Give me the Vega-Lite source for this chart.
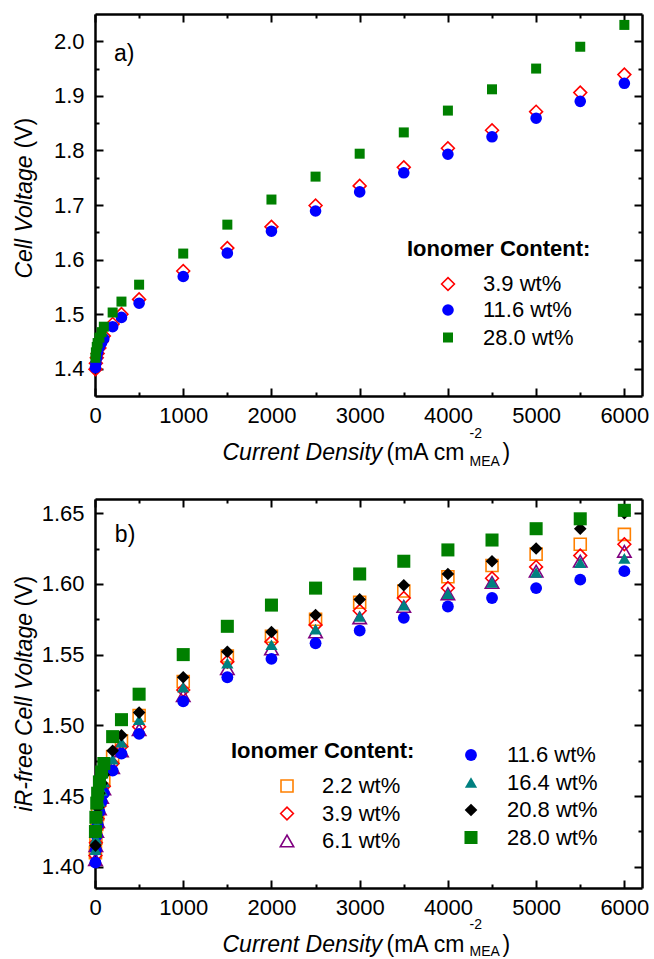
{
  "$schema": "https://vega.github.io/schema/vega-lite/v6.json",
  "padding": {"left": 13, "top": 13, "right": 5, "bottom": 0},
  "config": {
    "font": "Liberation Sans",
    "view": {"stroke": null},
    "axis": {"grid": false, "domainColor": "black", "domainWidth": 2.5, "tickColor": "black", "tickWidth": 2, "labelFont": "Liberation Sans", "labelFontSize": 22, "labelColor": "black", "titleFont": "Liberation Sans", "titleFontSize": 23, "titleColor": "black", "titleFontWeight": "normal"},
    "legend": {"labelFont": "Liberation Sans", "titleFont": "Liberation Sans", "labelFontSize": 22, "titleFontSize": 22, "labelColor": "black", "titleColor": "black", "titleFontWeight": "bold", "titleLimit": 400, "labelLimit": 300, "rowPadding": 5.5, "titlePadding": 12, "symbolStrokeWidth": 1.6}
  },
  "datasets": {
    "aOpen": [
      {"j":5,"v":1.399,"c":"3.9 wt%"},{"j":10,"v":1.41,"c":"3.9 wt%"},{"j":20,"v":1.42,"c":"3.9 wt%"},{"j":30,"v":1.428,"c":"3.9 wt%"},{"j":50,"v":1.438,"c":"3.9 wt%"},{"j":75,"v":1.45,"c":"3.9 wt%"},{"j":100,"v":1.46,"c":"3.9 wt%"},{"j":200,"v":1.482,"c":"3.9 wt%"},{"j":300,"v":1.5,"c":"3.9 wt%"},{"j":500,"v":1.527,"c":"3.9 wt%"},{"j":1000,"v":1.579,"c":"3.9 wt%"},{"j":1500,"v":1.621,"c":"3.9 wt%"},{"j":2000,"v":1.66,"c":"3.9 wt%"},{"j":2500,"v":1.699,"c":"3.9 wt%"},{"j":3000,"v":1.735,"c":"3.9 wt%"},{"j":3500,"v":1.769,"c":"3.9 wt%"},{"j":4000,"v":1.804,"c":"3.9 wt%"},{"j":4500,"v":1.837,"c":"3.9 wt%"},{"j":5000,"v":1.871,"c":"3.9 wt%"},{"j":5500,"v":1.906,"c":"3.9 wt%"},{"j":6000,"v":1.939,"c":"3.9 wt%"}
    ],
    "aFilled": [
      {"j":5,"v":1.402,"c":"11.6 wt%"},{"j":10,"v":1.41,"c":"11.6 wt%"},{"j":20,"v":1.42,"c":"11.6 wt%"},{"j":30,"v":1.43,"c":"11.6 wt%"},{"j":50,"v":1.44,"c":"11.6 wt%"},{"j":75,"v":1.448,"c":"11.6 wt%"},{"j":100,"v":1.455,"c":"11.6 wt%"},{"j":200,"v":1.477,"c":"11.6 wt%"},{"j":300,"v":1.494,"c":"11.6 wt%"},{"j":500,"v":1.52,"c":"11.6 wt%"},{"j":1000,"v":1.569,"c":"11.6 wt%"},{"j":1500,"v":1.612,"c":"11.6 wt%"},{"j":2000,"v":1.652,"c":"11.6 wt%"},{"j":2500,"v":1.689,"c":"11.6 wt%"},{"j":3000,"v":1.724,"c":"11.6 wt%"},{"j":3500,"v":1.759,"c":"11.6 wt%"},{"j":4000,"v":1.793,"c":"11.6 wt%"},{"j":4500,"v":1.825,"c":"11.6 wt%"},{"j":5000,"v":1.859,"c":"11.6 wt%"},{"j":5500,"v":1.89,"c":"11.6 wt%"},{"j":6000,"v":1.923,"c":"11.6 wt%"},
      {"j":5,"v":1.42,"c":"28.0 wt%"},{"j":10,"v":1.43,"c":"28.0 wt%"},{"j":20,"v":1.44,"c":"28.0 wt%"},{"j":30,"v":1.447,"c":"28.0 wt%"},{"j":50,"v":1.457,"c":"28.0 wt%"},{"j":75,"v":1.467,"c":"28.0 wt%"},{"j":100,"v":1.477,"c":"28.0 wt%"},{"j":200,"v":1.503,"c":"28.0 wt%"},{"j":300,"v":1.523,"c":"28.0 wt%"},{"j":500,"v":1.554,"c":"28.0 wt%"},{"j":1000,"v":1.611,"c":"28.0 wt%"},{"j":1500,"v":1.664,"c":"28.0 wt%"},{"j":2000,"v":1.71,"c":"28.0 wt%"},{"j":2500,"v":1.752,"c":"28.0 wt%"},{"j":3000,"v":1.794,"c":"28.0 wt%"},{"j":3500,"v":1.833,"c":"28.0 wt%"},{"j":4000,"v":1.873,"c":"28.0 wt%"},{"j":4500,"v":1.912,"c":"28.0 wt%"},{"j":5000,"v":1.95,"c":"28.0 wt%"},{"j":5500,"v":1.99,"c":"28.0 wt%"},{"j":6000,"v":2.03,"c":"28.0 wt%"}
    ],
    "bOpen": [
      {"j":5,"v":1.41,"c":"2.2 wt%"},{"j":10,"v":1.42,"c":"2.2 wt%"},{"j":20,"v":1.43,"c":"2.2 wt%"},{"j":30,"v":1.437,"c":"2.2 wt%"},{"j":50,"v":1.447,"c":"2.2 wt%"},{"j":75,"v":1.455,"c":"2.2 wt%"},{"j":100,"v":1.461,"c":"2.2 wt%"},{"j":200,"v":1.478,"c":"2.2 wt%"},{"j":300,"v":1.489,"c":"2.2 wt%"},{"j":500,"v":1.507,"c":"2.2 wt%"},{"j":1000,"v":1.531,"c":"2.2 wt%"},{"j":1500,"v":1.549,"c":"2.2 wt%"},{"j":2000,"v":1.563,"c":"2.2 wt%"},{"j":2500,"v":1.575,"c":"2.2 wt%"},{"j":3000,"v":1.587,"c":"2.2 wt%"},{"j":3500,"v":1.595,"c":"2.2 wt%"},{"j":4000,"v":1.605,"c":"2.2 wt%"},{"j":4500,"v":1.613,"c":"2.2 wt%"},{"j":5000,"v":1.621,"c":"2.2 wt%"},{"j":5500,"v":1.628,"c":"2.2 wt%"},{"j":6000,"v":1.635,"c":"2.2 wt%"},
      {"j":5,"v":1.408,"c":"3.9 wt%"},{"j":10,"v":1.417,"c":"3.9 wt%"},{"j":20,"v":1.427,"c":"3.9 wt%"},{"j":30,"v":1.434,"c":"3.9 wt%"},{"j":50,"v":1.443,"c":"3.9 wt%"},{"j":75,"v":1.451,"c":"3.9 wt%"},{"j":100,"v":1.457,"c":"3.9 wt%"},{"j":200,"v":1.473,"c":"3.9 wt%"},{"j":300,"v":1.485,"c":"3.9 wt%"},{"j":500,"v":1.499,"c":"3.9 wt%"},{"j":1000,"v":1.525,"c":"3.9 wt%"},{"j":1500,"v":1.545,"c":"3.9 wt%"},{"j":2000,"v":1.559,"c":"3.9 wt%"},{"j":2500,"v":1.571,"c":"3.9 wt%"},{"j":3000,"v":1.581,"c":"3.9 wt%"},{"j":3500,"v":1.59,"c":"3.9 wt%"},{"j":4000,"v":1.597,"c":"3.9 wt%"},{"j":4500,"v":1.604,"c":"3.9 wt%"},{"j":5000,"v":1.612,"c":"3.9 wt%"},{"j":5500,"v":1.62,"c":"3.9 wt%"},{"j":6000,"v":1.628,"c":"3.9 wt%"},
      {"j":5,"v":1.405,"c":"6.1 wt%"},{"j":10,"v":1.415,"c":"6.1 wt%"},{"j":20,"v":1.425,"c":"6.1 wt%"},{"j":30,"v":1.432,"c":"6.1 wt%"},{"j":50,"v":1.441,"c":"6.1 wt%"},{"j":75,"v":1.449,"c":"6.1 wt%"},{"j":100,"v":1.455,"c":"6.1 wt%"},{"j":200,"v":1.47,"c":"6.1 wt%"},{"j":300,"v":1.482,"c":"6.1 wt%"},{"j":500,"v":1.497,"c":"6.1 wt%"},{"j":1000,"v":1.521,"c":"6.1 wt%"},{"j":1500,"v":1.54,"c":"6.1 wt%"},{"j":2000,"v":1.554,"c":"6.1 wt%"},{"j":2500,"v":1.566,"c":"6.1 wt%"},{"j":3000,"v":1.576,"c":"6.1 wt%"},{"j":3500,"v":1.584,"c":"6.1 wt%"},{"j":4000,"v":1.593,"c":"6.1 wt%"},{"j":4500,"v":1.601,"c":"6.1 wt%"},{"j":5000,"v":1.609,"c":"6.1 wt%"},{"j":5500,"v":1.616,"c":"6.1 wt%"},{"j":6000,"v":1.623,"c":"6.1 wt%"}
    ],
    "bFilled": [
      {"j":5,"v":1.403,"c":"11.6 wt%"},{"j":10,"v":1.412,"c":"11.6 wt%"},{"j":20,"v":1.422,"c":"11.6 wt%"},{"j":30,"v":1.43,"c":"11.6 wt%"},{"j":50,"v":1.439,"c":"11.6 wt%"},{"j":75,"v":1.446,"c":"11.6 wt%"},{"j":100,"v":1.452,"c":"11.6 wt%"},{"j":200,"v":1.468,"c":"11.6 wt%"},{"j":300,"v":1.48,"c":"11.6 wt%"},{"j":500,"v":1.494,"c":"11.6 wt%"},{"j":1000,"v":1.517,"c":"11.6 wt%"},{"j":1500,"v":1.534,"c":"11.6 wt%"},{"j":2000,"v":1.547,"c":"11.6 wt%"},{"j":2500,"v":1.558,"c":"11.6 wt%"},{"j":3000,"v":1.567,"c":"11.6 wt%"},{"j":3500,"v":1.576,"c":"11.6 wt%"},{"j":4000,"v":1.584,"c":"11.6 wt%"},{"j":4500,"v":1.59,"c":"11.6 wt%"},{"j":5000,"v":1.597,"c":"11.6 wt%"},{"j":5500,"v":1.603,"c":"11.6 wt%"},{"j":6000,"v":1.609,"c":"11.6 wt%"},
      {"j":5,"v":1.412,"c":"16.4 wt%"},{"j":10,"v":1.42,"c":"16.4 wt%"},{"j":20,"v":1.43,"c":"16.4 wt%"},{"j":30,"v":1.437,"c":"16.4 wt%"},{"j":50,"v":1.446,"c":"16.4 wt%"},{"j":75,"v":1.454,"c":"16.4 wt%"},{"j":100,"v":1.46,"c":"16.4 wt%"},{"j":200,"v":1.476,"c":"16.4 wt%"},{"j":300,"v":1.488,"c":"16.4 wt%"},{"j":500,"v":1.504,"c":"16.4 wt%"},{"j":1000,"v":1.527,"c":"16.4 wt%"},{"j":1500,"v":1.544,"c":"16.4 wt%"},{"j":2000,"v":1.557,"c":"16.4 wt%"},{"j":2500,"v":1.568,"c":"16.4 wt%"},{"j":3000,"v":1.577,"c":"16.4 wt%"},{"j":3500,"v":1.585,"c":"16.4 wt%"},{"j":4000,"v":1.593,"c":"16.4 wt%"},{"j":4500,"v":1.601,"c":"16.4 wt%"},{"j":5000,"v":1.608,"c":"16.4 wt%"},{"j":5500,"v":1.615,"c":"16.4 wt%"},{"j":6000,"v":1.618,"c":"16.4 wt%"},
      {"j":5,"v":1.415,"c":"20.8 wt%"},{"j":10,"v":1.425,"c":"20.8 wt%"},{"j":20,"v":1.435,"c":"20.8 wt%"},{"j":30,"v":1.442,"c":"20.8 wt%"},{"j":50,"v":1.452,"c":"20.8 wt%"},{"j":75,"v":1.459,"c":"20.8 wt%"},{"j":100,"v":1.465,"c":"20.8 wt%"},{"j":200,"v":1.482,"c":"20.8 wt%"},{"j":300,"v":1.493,"c":"20.8 wt%"},{"j":500,"v":1.509,"c":"20.8 wt%"},{"j":1000,"v":1.534,"c":"20.8 wt%"},{"j":1500,"v":1.552,"c":"20.8 wt%"},{"j":2000,"v":1.566,"c":"20.8 wt%"},{"j":2500,"v":1.578,"c":"20.8 wt%"},{"j":3000,"v":1.589,"c":"20.8 wt%"},{"j":3500,"v":1.599,"c":"20.8 wt%"},{"j":4000,"v":1.607,"c":"20.8 wt%"},{"j":4500,"v":1.616,"c":"20.8 wt%"},{"j":5000,"v":1.625,"c":"20.8 wt%"},{"j":5500,"v":1.639,"c":"20.8 wt%"},{"j":6000,"v":1.65,"c":"20.8 wt%"},
      {"j":5,"v":1.425,"c":"28.0 wt%"},{"j":10,"v":1.435,"c":"28.0 wt%"},{"j":20,"v":1.445,"c":"28.0 wt%"},{"j":30,"v":1.452,"c":"28.0 wt%"},{"j":50,"v":1.46,"c":"28.0 wt%"},{"j":75,"v":1.467,"c":"28.0 wt%"},{"j":100,"v":1.473,"c":"28.0 wt%"},{"j":200,"v":1.492,"c":"28.0 wt%"},{"j":300,"v":1.504,"c":"28.0 wt%"},{"j":500,"v":1.522,"c":"28.0 wt%"},{"j":1000,"v":1.55,"c":"28.0 wt%"},{"j":1500,"v":1.57,"c":"28.0 wt%"},{"j":2000,"v":1.585,"c":"28.0 wt%"},{"j":2500,"v":1.597,"c":"28.0 wt%"},{"j":3000,"v":1.607,"c":"28.0 wt%"},{"j":3500,"v":1.616,"c":"28.0 wt%"},{"j":4000,"v":1.624,"c":"28.0 wt%"},{"j":4500,"v":1.631,"c":"28.0 wt%"},{"j":5000,"v":1.639,"c":"28.0 wt%"},{"j":5500,"v":1.646,"c":"28.0 wt%"},{"j":6000,"v":1.652,"c":"28.0 wt%"}
    ]
  },
  "spacing": 30,
  "vconcat": [
    {
      "width": 547,
      "height": 382,
      "resolve": {"axis": {"x": "independent", "y": "independent"}, "scale": {"color": "independent", "shape": "independent", "size": "independent"}},
      "layer": [
        {
          "data": {"name": "aOpen"},
          "mark": {"type": "point", "filled": false, "strokeWidth": 1.6, "opacity": 1},
          "encoding": {
            "x": {"field": "j", "type": "quantitative", "scale": {"domain": [0, 6200], "nice": false, "zero": false},
              "axis": {"orient": "bottom", "values": [0,500,1000,1500,2000,2500,3000,3500,4000,4500,5000,5500,6000], "format": "d", "labelExpr": "datum.value % 1000 === 0 ? datum.label : ''", "labelFlush": false, "labelOverlap": false, "tickSize": {"condition": {"test": "datum.value % 1000 === 0", "value": -8}, "value": -4}, "labelPadding": 17, "title": "Current Density", "titleFontStyle": "italic", "titleX": 127, "titleY": 63, "titleAlign": "left", "titleBaseline": "alphabetic"}},
            "y": {"field": "v", "type": "quantitative", "scale": {"domain": [1.35, 2.05], "nice": false, "zero": false},
              "axis": {"orient": "left", "values": [1.4,1.45,1.5,1.55,1.6,1.65,1.7,1.75,1.8,1.85,1.9,1.95,2.0], "format": ".1f", "labelExpr": "round(datum.value*100) % 10 === 0 ? datum.label : ''", "labelOverlap": false, "labelFlush": false, "tickSize": {"condition": {"test": "round(datum.value*100) % 10 === 0", "value": -8}, "value": -4}, "labelPadding": 19, "title": "Cell Voltage", "titleFontStyle": "italic", "titleAngle": 270, "titleX": -71, "titleY": 264, "titleAlign": "left", "titleBaseline": "middle"}},
            "color": {"field": "c", "type": "nominal", "title": "Ionomer Content:", "scale": {"domain": ["3.9 wt%"], "range": ["#FF0000", "#FF0000"]},
              "legend": {"orient": "none", "legendX": 312, "legendY": 225, "symbolOffset": 30, "labelOffset": 24}},
            "shape": {"field": "c", "type": "nominal", "title": "Ionomer Content:", "scale": {"domain": ["3.9 wt%"], "range": ["diamond", "diamond"]},
              "legend": {"orient": "none", "legendX": 312, "legendY": 225, "symbolOffset": 30, "labelOffset": 24}},
            "size": {"field": "c", "type": "nominal", "title": "Ionomer Content:", "scale": {"domain": ["3.9 wt%"], "range": [165, 165]},
              "legend": {"orient": "none", "legendX": 312, "legendY": 225, "symbolOffset": 30, "labelOffset": 24}}
          }
        },
        {
          "data": {"name": "aFilled"},
          "mark": {"type": "point", "filled": true, "opacity": 1},
          "encoding": {
            "x": {"field": "j", "type": "quantitative", "scale": {"domain": [0, 6200], "nice": false, "zero": false}, "axis": null},
            "y": {"field": "v", "type": "quantitative", "scale": {"domain": [1.35, 2.05], "nice": false, "zero": false}, "axis": null},
            "color": {"field": "c", "type": "nominal", "title": null, "scale": {"domain": ["11.6 wt%","28.0 wt%"], "range": ["#0000FF","#008000"]},
              "legend": {"orient": "none", "legendX": 312, "legendY": 285, "symbolOffset": 30, "labelOffset": 24}},
            "shape": {"field": "c", "type": "nominal", "title": null, "scale": {"domain": ["11.6 wt%","28.0 wt%"], "range": ["circle","square"]},
              "legend": {"orient": "none", "legendX": 312, "legendY": 285, "symbolOffset": 30, "labelOffset": 24}},
            "size": {"field": "c", "type": "nominal", "title": null, "scale": {"domain": ["11.6 wt%","28.0 wt%"], "range": [135, 100]},
              "legend": {"orient": "none", "legendX": 312, "legendY": 285, "symbolOffset": 30, "labelOffset": 24}}
          }
        },
        {
          "data": {"name": "aFilled"},
          "mark": {"type": "point", "opacity": 0},
          "encoding": {
            "x": {"field": "j", "type": "quantitative", "scale": {"domain": [0, 6200], "nice": false, "zero": false},
              "axis": {"orient": "top", "values": [0,500,1000,1500,2000,2500,3000,3500,4000,4500,5000,5500,6000], "labels": false, "tickSize": {"condition": {"test": "datum.value % 1000 === 0", "value": -8}, "value": -4}, "title": "(mA cm", "titleX": 291, "titleY": 445, "titleAlign": "left", "titleBaseline": "alphabetic"}},
            "y": {"field": "v", "type": "quantitative", "scale": {"domain": [1.35, 2.05], "nice": false, "zero": false},
              "axis": {"orient": "right", "values": [1.4,1.45,1.5,1.55,1.6,1.65,1.7,1.75,1.8,1.85,1.9,1.95,2.0], "labels": false, "tickSize": {"condition": {"test": "round(datum.value*100) % 10 === 0", "value": -8}, "value": -4}, "title": "(V)", "titleAngle": 270, "titleX": -618, "titleY": 134, "titleAlign": "left", "titleBaseline": "middle"}}
          }
        },
        {
          "data": {"name": "aFilled"},
          "mark": {"type": "point", "opacity": 0},
          "encoding": {
            "x": {"field": "j", "type": "quantitative", "scale": {"domain": [0, 6200], "nice": false, "zero": false},
              "axis": {"orient": "bottom", "domain": false, "ticks": false, "labels": false, "title": ["-2", "MEA"], "titleFontSize": 14, "titleLineHeight": 28, "titleX": 374, "titleY": 41, "titleAlign": "left", "titleBaseline": "alphabetic"}},
            "y": {"field": "v", "type": "quantitative", "scale": {"domain": [1.35, 2.05], "nice": false, "zero": false}, "axis": null}
          }
        },
        {
          "data": {"name": "aFilled"},
          "mark": {"type": "point", "opacity": 0},
          "encoding": {
            "x": {"field": "j", "type": "quantitative", "scale": {"domain": [0, 6200], "nice": false, "zero": false},
              "axis": {"orient": "bottom", "domain": false, "ticks": false, "labels": false, "title": ")", "titleX": 407, "titleY": 63, "titleAlign": "left", "titleBaseline": "alphabetic"}},
            "y": {"field": "v", "type": "quantitative", "scale": {"domain": [1.35, 2.05], "nice": false, "zero": false}, "axis": null}
          }
        },
        {
          "data": {"values": [{}]},
          "mark": {"type": "text", "fontSize": 23, "align": "left", "baseline": "middle", "font": "Liberation Sans"},
          "encoding": {
            "x": {"datum": 215, "type": "quantitative", "axis": null},
            "y": {"datum": 1.976, "type": "quantitative", "axis": null},
            "text": {"value": "a)"}
          }
        }
      ]
    },
    {
      "width": 547,
      "height": 389,
      "resolve": {"axis": {"x": "independent", "y": "independent"}, "scale": {"color": "independent", "shape": "independent", "size": "independent"}},
      "layer": [
        {
          "data": {"name": "bOpen"},
          "mark": {"type": "point", "filled": false, "strokeWidth": 1.6, "opacity": 1},
          "encoding": {
            "x": {"field": "j", "type": "quantitative", "scale": {"domain": [0, 6200], "nice": false, "zero": false},
              "axis": {"orient": "bottom", "values": [0,500,1000,1500,2000,2500,3000,3500,4000,4500,5000,5500,6000], "format": "d", "labelExpr": "datum.value % 1000 === 0 ? datum.label : ''", "labelFlush": false, "labelOverlap": false, "tickSize": {"condition": {"test": "datum.value % 1000 === 0", "value": -8}, "value": -4}, "labelPadding": 17, "title": "Current Density", "titleFontStyle": "italic", "titleX": 127, "titleY": 63, "titleAlign": "left", "titleBaseline": "alphabetic"}},
            "y": {"field": "v", "type": "quantitative", "scale": {"domain": [1.385, 1.66], "nice": false, "zero": false},
              "axis": {"orient": "left", "values": [1.4,1.425,1.45,1.475,1.5,1.525,1.55,1.575,1.6,1.625,1.65], "format": ".2f", "labelExpr": "round(datum.value*1000) % 50 === 0 ? datum.label : ''", "labelOverlap": false, "labelFlush": false, "tickSize": {"condition": {"test": "round(datum.value*1000) % 50 === 0", "value": -8}, "value": -4}, "labelPadding": 19, "title": "iR-free Cell Voltage", "titleFontStyle": "italic", "titleAngle": 270, "titleX": -71, "titleY": 312, "titleAlign": "left", "titleBaseline": "middle"}},
            "color": {"field": "c", "type": "nominal", "title": "Ionomer Content:", "scale": {"domain": ["2.2 wt%","3.9 wt%","6.1 wt%"], "range": ["#FF8000","#FF0000","#800080"]},
              "legend": {"orient": "none", "legendX": 136, "legendY": 242, "symbolOffset": 45, "labelOffset": 24}},
            "shape": {"field": "c", "type": "nominal", "title": "Ionomer Content:", "scale": {"domain": ["2.2 wt%","3.9 wt%","6.1 wt%"], "range": ["square","diamond","triangle-up"]},
              "legend": {"orient": "none", "legendX": 136, "legendY": 242, "symbolOffset": 45, "labelOffset": 24}},
            "size": {"field": "c", "type": "nominal", "title": "Ionomer Content:", "scale": {"domain": ["2.2 wt%","3.9 wt%","6.1 wt%"], "range": [144, 180, 170]},
              "legend": {"orient": "none", "legendX": 136, "legendY": 242, "symbolOffset": 45, "labelOffset": 24}}
          }
        },
        {
          "data": {"name": "bFilled"},
          "mark": {"type": "point", "filled": true, "opacity": 1},
          "encoding": {
            "x": {"field": "j", "type": "quantitative", "scale": {"domain": [0, 6200], "nice": false, "zero": false}, "axis": null},
            "y": {"field": "v", "type": "quantitative", "scale": {"domain": [1.385, 1.66], "nice": false, "zero": false}, "axis": null},
            "color": {"field": "c", "type": "nominal", "title": null, "scale": {"domain": ["11.6 wt%","16.4 wt%","20.8 wt%","28.0 wt%"], "range": ["#0000FF","#008080","#000000","#008000"]},
              "legend": {"orient": "none", "legendX": 320, "legendY": 245, "symbolOffset": 45, "labelOffset": 25}},
            "shape": {"field": "c", "type": "nominal", "title": null, "scale": {"domain": ["11.6 wt%","16.4 wt%","20.8 wt%","28.0 wt%"], "range": ["circle","triangle-up","diamond","square"]},
              "legend": {"orient": "none", "legendX": 320, "legendY": 245, "symbolOffset": 45, "labelOffset": 25}},
            "size": {"field": "c", "type": "nominal", "title": null, "scale": {"domain": ["11.6 wt%","16.4 wt%","20.8 wt%","28.0 wt%"], "range": [140, 170, 170, 100]},
              "legend": {"orient": "none", "legendX": 320, "legendY": 245, "symbolOffset": 45, "labelOffset": 25}}
          }
        },
        {
          "data": {"name": "bFilled"},
          "mark": {"type": "point", "opacity": 0},
          "encoding": {
            "x": {"field": "j", "type": "quantitative", "scale": {"domain": [0, 6200], "nice": false, "zero": false},
              "axis": {"orient": "top", "values": [0,500,1000,1500,2000,2500,3000,3500,4000,4500,5000,5500,6000], "labels": false, "tickSize": {"condition": {"test": "datum.value % 1000 === 0", "value": -8}, "value": -4}, "title": "(mA cm", "titleX": 291, "titleY": 452, "titleAlign": "left", "titleBaseline": "alphabetic"}},
            "y": {"field": "v", "type": "quantitative", "scale": {"domain": [1.385, 1.66], "nice": false, "zero": false},
              "axis": {"orient": "right", "values": [1.4,1.425,1.45,1.475,1.5,1.525,1.55,1.575,1.6,1.625,1.65], "labels": false, "tickSize": {"condition": {"test": "round(datum.value*1000) % 50 === 0", "value": -8}, "value": -4}, "title": "(V)", "titleAngle": 270, "titleX": -618, "titleY": 107, "titleAlign": "left", "titleBaseline": "middle"}}
          }
        },
        {
          "data": {"name": "bFilled"},
          "mark": {"type": "point", "opacity": 0},
          "encoding": {
            "x": {"field": "j", "type": "quantitative", "scale": {"domain": [0, 6200], "nice": false, "zero": false},
              "axis": {"orient": "bottom", "domain": false, "ticks": false, "labels": false, "title": ["-2", "MEA"], "titleFontSize": 14, "titleLineHeight": 27, "titleX": 374, "titleY": 40, "titleAlign": "left", "titleBaseline": "alphabetic"}},
            "y": {"field": "v", "type": "quantitative", "scale": {"domain": [1.385, 1.66], "nice": false, "zero": false}, "axis": null}
          }
        },
        {
          "data": {"name": "bFilled"},
          "mark": {"type": "point", "opacity": 0},
          "encoding": {
            "x": {"field": "j", "type": "quantitative", "scale": {"domain": [0, 6200], "nice": false, "zero": false},
              "axis": {"orient": "bottom", "domain": false, "ticks": false, "labels": false, "title": ")", "titleX": 407, "titleY": 63, "titleAlign": "left", "titleBaseline": "alphabetic"}},
            "y": {"field": "v", "type": "quantitative", "scale": {"domain": [1.385, 1.66], "nice": false, "zero": false}, "axis": null}
          }
        },
        {
          "data": {"values": [{}]},
          "mark": {"type": "text", "fontSize": 23, "align": "left", "baseline": "middle", "font": "Liberation Sans"},
          "encoding": {
            "x": {"datum": 225, "type": "quantitative", "axis": null},
            "y": {"datum": 1.6345, "type": "quantitative", "axis": null},
            "text": {"value": "b)"}
          }
        }
      ]
    }
  ]
}
